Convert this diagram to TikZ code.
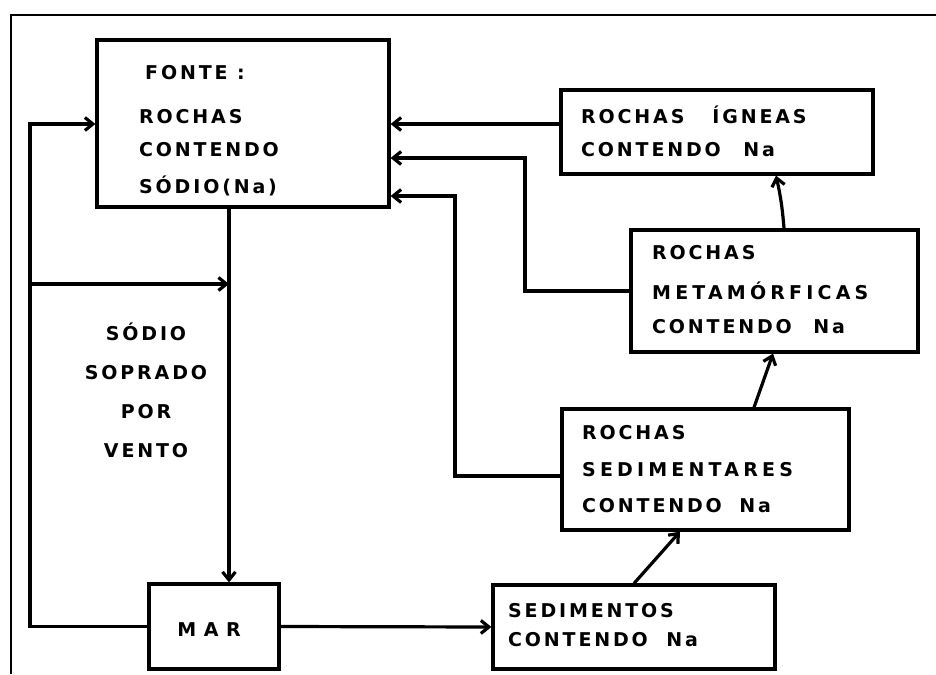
\documentclass[tikz,border=0pt]{standalone}
\usepackage{fontspec}
\setmainfont{DejaVu Sans}
\newfontfamily\letfont{DejaVu Sans}[LetterSpace=15]
\newfontfamily\widefont{DejaVu Sans}[LetterSpace=22]
\newfontfamily\marfont{DejaVu Sans}[LetterSpace=40]
\usetikzlibrary{arrows.meta}
\newcommand{\lbfont}{\letfont\bfseries\fontsize{19}{23}\selectfont}
\newcommand{\wdfont}{\widefont\bfseries\fontsize{19}{23}\selectfont}
\begin{document}
\begin{tikzpicture}[x=1pt,y=-1pt,
  box/.style={draw, line width=3.2pt, inner sep=0pt},
  lbl/.style={font=\lbfont, inner sep=0pt, anchor=base west},
  wlbl/.style={font=\wdfont, inner sep=0pt, anchor=base west},
  arr/.style={draw, line width=3.2pt, -{Straight Barb[length=8pt,width=13pt]}},
  frame/.style={line width=1.5pt}]
\useasboundingbox (0,0) rectangle (936,674);
% frame
\coordinate (f0) at (11,674);
\coordinate (f1) at (11,15);
\coordinate (f2) at (936,15);
\draw[frame] (f0) -- (f1) -- (f2);
% boxes
\node[box, minimum width=292pt, minimum height=167pt] (fonte) at (243,123.5) {};
\node[box, minimum width=312pt, minimum height=84pt] (igneas) at (717,132) {};
\node[box, minimum width=287pt, minimum height=122pt] (meta) at (774.5,291) {};
\node[box, minimum width=287pt, minimum height=121pt] (sedim) at (705.5,469.5) {};
\node[box, minimum width=282pt, minimum height=84pt] (sedimentos) at (634,627) {};
\node[box, minimum width=130pt, minimum height=85pt] (mar) at (214,626.5) {};
% texts
\node[lbl] (ft1) at (145,79.5) {FONTE :};
\node[lbl] (ft2) at (139,123.5) {ROCHAS};
\node[lbl] (ft3) at (139,156.5) {CONTENDO};
\node[lbl] (ft4) at (139,193.5) {SÓDIO(Na)};
\node[lbl] (it1) at (581,123.5) {ROCHAS\hspace{28pt}ÍGNEAS};
\node[lbl] (it2) at (581,156.5) {CONTENDO \hspace{13pt}Na};
\node[lbl] (mt1) at (652,259.5) {ROCHAS};
\node[wlbl] (mt2) at (652,299.5) {METAMÓRFICAS};
\node[lbl] (mt3) at (652,333.5) {CONTENDO \hspace{12pt}Na};
\node[lbl] (st1) at (582,439.5) {ROCHAS};
\node[wlbl] (st2) at (582,476.5) {SEDIMENTARES};
\node[lbl] (st3) at (582,512.5) {CONTENDO \hspace{8pt}Na};
\node[lbl] (dt1) at (508,617.5) {SEDIMENTOS};
\node[lbl] (dt2) at (508,646.5) {CONTENDO \hspace{9pt}Na};
\node[font={\marfont\bfseries\fontsize{19}{23}\selectfont}, inner sep=0pt, anchor=base] (mt) at (209,636.5) {MAR};
\node[font={\letfont\bfseries\fontsize{19}{39}\selectfont}, inner sep=0pt, align=center] (wind) at (146,390) {SÓDIO\\SOPRADO\\POR\\VENTO};
% connectors
\coordinate (ig) at ([yshift=8pt]igneas.west);
\draw[arr] (ig) -- (ig -| fonte.east);
\coordinate (m1) at (525,158);
\draw[arr] (meta.west) -| (m1) -- (m1 -| fonte.east);
\coordinate (sw) at ([yshift=-6.5pt]sedim.west);
\coordinate (s1) at (455,196);
\draw[arr] (sw) -| (s1) -- (s1 -| fonte.east);
\draw[arr] ([xshift=9.5pt]meta.north) to[bend right=4] ([xshift=59pt]igneas.south);
\draw[arr] ([xshift=48.5pt]sedim.north) -- ([xshift=-1.5pt]meta.south);
\draw[arr] (sedimentos.north) -- ([xshift=-25.5pt]sedim.south);
\draw[arr] (mar.east) -- (sedimentos.west);
\coordinate (dn) at ([xshift=-14pt]fonte.south);
\draw[arr] (dn) -- (dn |- mar.north);
\coordinate (l1) at (30,124);
\coordinate (l2) at (30,284);
\draw[arr] (mar.west) -| (l1) -- (l1 -| fonte.west);
\draw[arr] (l2) -- (l2 -| dn);
\end{tikzpicture}
\end{document}
